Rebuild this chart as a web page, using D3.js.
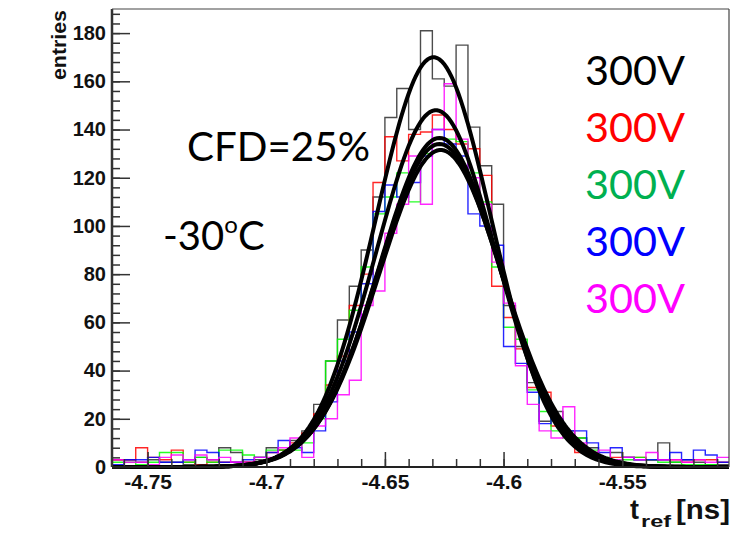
<!DOCTYPE html>
<html>
<head>
<meta charset="utf-8">
<script src="https://cdn.jsdelivr.net/npm/d3@7/dist/d3.min.js"></script>
<style>
  body { margin: 0; background: #fff; }
  svg { display: block; }
</style>
</head>
<body>
<div id="chart"></div>
<script>
// histogram binning: 52 bins of 0.005 ns from -4.765
const binStart = -4.765;
const binWidth = 0.005;

// entries per bin
const hBlack = [3,3,2,3,2,2,1,4,3,8,6,2,3,
  8,7,11,15,26,44,61,75,90,
  112,145,157,140,181,161,158,175,141,125,
  109,67,50,35,19,23,15,12,8,3,
  6,4,3,3,10,2,3,2,1,1];
const hRed = [3,3,8,4,3,7,2,1,2,2,2,2,4,
  6,7,10,14,22,34,46,67,80,
  118,137,127,138,139,146,140,134,132,121,
  75,62,49,33,31,17,13,6,6,3,
  4,4,4,3,3,3,2,3,3,2];
const hGreen = [2,2,1,2,6,6,2,4,2,7,7,5,4,
  7,7,7,10,20,44,53,65,83,
  105,112,122,110,130,136,136,135,122,110,
  83,58,53,32,23,15,12,12,7,4,
  3,3,4,3,2,2,1,1,1,0];
const hBlue = [1,3,3,4,2,2,3,7,6,2,2,3,4,
  6,11,8,6,15,27,44,56,76,
  106,117,112,118,129,140,134,129,105,100,
  92,50,43,31,18,20,15,15,10,6,
  8,4,3,3,3,6,3,7,5,2];
const hMagenta = [3,2,2,1,4,5,3,5,3,4,2,2,4,
  4,8,12,4,17,20,30,36,67,
  73,97,109,129,109,140,159,136,120,109,
  85,68,42,26,15,12,25,10,6,7,
  3,4,3,6,3,3,2,3,2,4];

const histColors = ["#000000", "#ff0000", "#00ff00", "#0000ff", "#ff00ff"];
const histograms = [hBlack, hRed, hGreen, hBlue, hMagenta];

// gaussian fit parameters (constant, mean, sigma)
const fitConst = [170, 148, 136.5, 134, 131.5];
const fitMean = [-4.6295, -4.6285, -4.627, -4.627, -4.6265];
const fitSigma = [0.0243, 0.025, 0.0255, 0.0258, 0.026];

// legend
const legendLabels = ["300V", "300V", "300V", "300V", "300V"];
const legendColors = ["#000000", "#ff0000", "#00b050", "#0000ff", "#ff00ff"];

// axis ticks
const xMajorTicks = [-4.75, -4.7, -4.65, -4.6, -4.55];
const yMajorTicks = [0, 20, 40, 60, 80, 100, 120, 140, 160, 180];

const width = 732, height = 533;
const pLeft = 112, pRight = 729, pTop = 9, pBottom = 467;

const svg = d3.select("#chart")
  .append("svg")
  .attr("width", width)
  .attr("height", height);

const x = d3.scaleLinear().domain([-4.765, -4.505]).range([pLeft, pRight]);
const y = d3.scaleLinear().domain([0, 190]).range([pBottom, pTop]);

svg.append("defs").append("clipPath").attr("id", "frame")
  .append("rect")
  .attr("x", pLeft).attr("y", pTop)
  .attr("width", pRight - pLeft).attr("height", pBottom - pTop + 2);

// histograms
const step = d3.line()
  .curve(d3.curveStepAfter)
  .x(d => x(d[0]))
  .y(d => y(d[1]));

const plot = svg.append("g").attr("clip-path", "url(#frame)");

histograms.forEach((h, k) => {
  const pts = h.map((v, i) => [binStart + i * binWidth, v]);
  pts.push([binStart + h.length * binWidth, h[h.length - 1]]);
  plot.append("path")
    .attr("d", step(pts))
    .attr("fill", "none")
    .attr("stroke", histColors[k])
    .attr("stroke-opacity", k === 0 ? 0.7 : 0.85)
    .attr("stroke-width", 1.4);
});

// fit curves
const xs = d3.range(-4.765, -4.5049, 0.001);
const curve = d3.line().x(d => x(d[0])).y(d => y(d[1]));
fitConst.forEach((c, k) => {
  const pts = xs.map(v => [v, c * Math.exp(-0.5 * Math.pow((v - fitMean[k]) / fitSigma[k], 2))]);
  plot.append("path")
    .attr("d", curve(pts))
    .attr("fill", "none")
    .attr("stroke", "#000")
    .attr("stroke-width", 4);
});

// axes
const yMinor = d3.range(0, 190, 4);
const xMinor = d3.range(-4.76, -4.505, 0.01).map(v => +v.toFixed(3));

svg.append("g")
  .attr("transform", `translate(${pLeft},0)`)
  .call(d3.axisLeft(y).tickValues(yMinor).tickSize(-8).tickFormat(""))
  .call(g => g.select(".domain").remove());

const yAxis = svg.append("g")
  .attr("transform", `translate(${pLeft},0)`)
  .call(d3.axisLeft(y).tickValues(yMajorTicks).tickSize(-18).tickPadding(6).tickFormat(d3.format("d")))
  .call(g => g.select(".domain").remove());

svg.append("g")
  .attr("transform", `translate(0,${pBottom})`)
  .call(d3.axisBottom(x).tickValues(xMinor).tickSize(-8).tickFormat(""))
  .call(g => g.select(".domain").remove());

const xAxis = svg.append("g")
  .attr("transform", `translate(0,${pBottom})`)
  .call(d3.axisBottom(x).tickValues(xMajorTicks).tickSize(-15).tickPadding(7).tickFormat(d => String(+d.toFixed(2))))
  .call(g => g.select(".domain").remove());

svg.selectAll(".tick line").attr("stroke", "#333").attr("stroke-width", 1.5);

const bold = "'Liberation Sans', Arial, sans-serif";
yAxis.selectAll("text")
  .attr("fill", "#111")
  .style("font-family", bold).style("font-weight", "bold").style("font-size", "20px");
xAxis.selectAll("text")
  .attr("fill", "#111")
  .style("font-family", bold).style("font-weight", "bold").style("font-size", "21px");

// frame
svg.append("line").attr("x1", pLeft).attr("x2", pLeft).attr("y1", pTop).attr("y2", pBottom)
  .attr("stroke", "#333").attr("stroke-width", 2.5);
svg.append("line").attr("x1", pLeft).attr("x2", pRight).attr("y1", pBottom).attr("y2", pBottom)
  .attr("stroke", "#222").attr("stroke-width", 2);
svg.append("line").attr("x1", pLeft).attr("x2", pRight).attr("y1", pTop).attr("y2", pTop)
  .attr("stroke", "#444").attr("stroke-width", 1.2);
svg.append("line").attr("x1", pRight).attr("x2", pRight).attr("y1", pTop).attr("y2", pBottom)
  .attr("stroke", "#444").attr("stroke-width", 1.2);

// axis titles
svg.append("text")
  .attr("transform", "translate(66,10) rotate(-90)")
  .attr("text-anchor", "end")
  .attr("textLength", 70).attr("lengthAdjust", "spacingAndGlyphs")
  .style("font-family", bold).style("font-weight", "bold").style("font-size", "20px")
  .attr("fill", "#111")
  .text("entries");

svg.append("text").attr("x", 630).attr("y", 519)
  .style("font-family", bold).style("font-weight", "bold").style("font-size", "27px")
  .attr("fill", "#111").text("t");
svg.append("text").attr("x", 641).attr("y", 527)
  .attr("textLength", 30).attr("lengthAdjust", "spacingAndGlyphs")
  .style("font-family", bold).style("font-weight", "bold").style("font-size", "16px")
  .attr("fill", "#111").text("ref");
svg.append("text").attr("x", 676).attr("y", 519)
  .attr("textLength", 54).attr("lengthAdjust", "spacingAndGlyphs")
  .style("font-family", bold).style("font-weight", "bold").style("font-size", "27px")
  .attr("fill", "#111").text("[ns]");

// annotations
const soft = "Lato, 'Open Sans', sans-serif";
svg.append("text").attr("x", 187).attr("y", 161)
  .attr("textLength", 183).attr("lengthAdjust", "spacingAndGlyphs")
  .style("font-family", soft).style("font-size", "40px")
  .text("CFD=25%");

const temp = svg.append("text").attr("x", 163).attr("y", 250)
  .style("font-family", soft).style("font-size", "40px");
temp.append("tspan").text("-30");
temp.append("tspan").attr("dy", -17).style("font-size", "24px").text("o");
temp.append("tspan").attr("dy", 17).text("C");

svg.selectAll(".legend")
  .data(legendLabels)
  .enter()
  .append("text")
  .attr("class", "legend")
  .attr("x", 585)
  .attr("y", (d, i) => 85 + i * 57)
  .attr("textLength", 100).attr("lengthAdjust", "spacingAndGlyphs")
  .attr("fill", (d, i) => legendColors[i])
  .style("font-family", soft).style("font-size", "40px")
  .text(d => d);
</script>
</body>
</html>
